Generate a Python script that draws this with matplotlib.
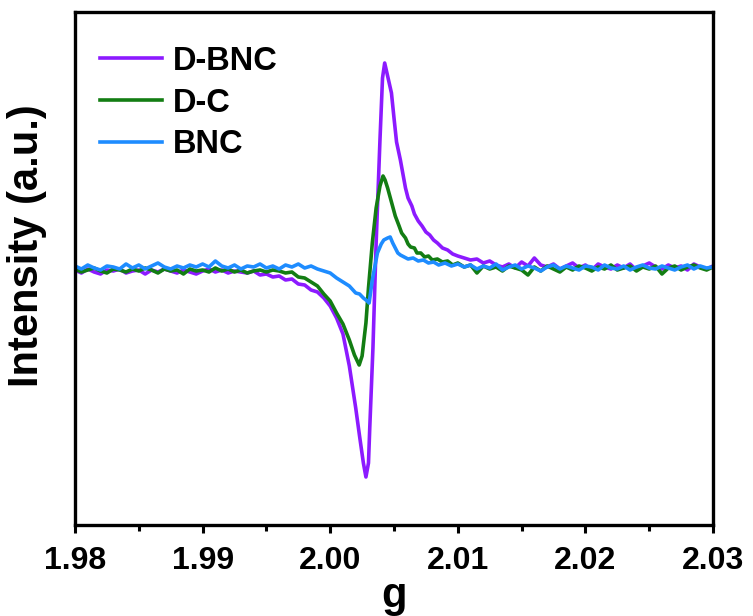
import matplotlib
matplotlib.use("Agg")
import matplotlib.pyplot as plt
from matplotlib.ticker import FormatStrFormatter, MultipleLocator

plt.rcParams["font.family"] = ["Liberation Sans", "DejaVu Sans"]
plt.rcParams["font.weight"] = "bold"

# EPR spectra, intensity in arbitrary units (baseline = 0)
g_dbnc = [
    1.9800, 1.9805, 1.9810, 1.9815, 1.9820, 1.9825, 1.9830, 1.9835, 1.9840, 1.9845,
    1.9850, 1.9855, 1.9860, 1.9865, 1.9870, 1.9875, 1.9880, 1.9885, 1.9890, 1.9895,
    1.9900, 1.9905, 1.9910, 1.9915, 1.9920, 1.9925, 1.9930, 1.9935, 1.9940, 1.9945,
    1.9950, 1.9955, 1.9960, 1.9965, 1.9970, 1.9975, 1.9980, 1.9985, 1.9990, 1.9995,
    2.0000, 2.0005, 2.0010, 2.0015, 2.0020, 2.0023, 2.0026, 2.0028, 2.0030, 2.0031,
    2.00335, 2.0036, 2.0039, 2.0041, 2.00427, 2.0045, 2.0048, 2.0050, 2.0052, 2.0055,
    2.0057, 2.0059, 2.0061, 2.0064, 2.0066, 2.0069, 2.0072, 2.0075, 2.0078, 2.0081,
    2.0084, 2.0088, 2.0092, 2.0096, 2.0100, 2.0105, 2.0110, 2.0115, 2.0120, 2.0125,
    2.0130, 2.0135, 2.0140, 2.0145, 2.0150, 2.0155, 2.0160, 2.0165, 2.0170, 2.0175,
    2.0180, 2.0185, 2.0190, 2.0195, 2.0200, 2.0205, 2.0210, 2.0215, 2.0220, 2.0225,
    2.0230, 2.0235, 2.0240, 2.0245, 2.0250, 2.0255, 2.0260, 2.0265, 2.0270, 2.0275,
    2.0280, 2.0285, 2.0290, 2.0295, 2.0300,
]
i_dbnc = [
    -2, -5, -1, -4, -6, -2, -3, -1, -5, -3,
    -2, -6, -2, -4, -1, -3, -5, -2, -4, -6,
    -3, -1, -4, -2, -5, -3, -4, -5, -3, -7,
    -6, -9, -8, -12, -11, -16, -17, -22, -24, -30,
    -38, -50, -66, -98, -140, -168, -195, -209, -195, -160,
    -80, 25, 128, 190, 205, 192, 175, 150, 126, 108,
    94, 80, 70, 62, 54, 47, 42, 36, 33, 28,
    25, 20, 18, 14, 12, 10, 8, 9, 5, 7,
    3, 1, 4, 0, 6, 2, 10, 3, 1, 4,
    -1, 2, 5, 0, 3, -2, 4, 1, -1, 3,
    0, 4, -2, 2, 5, 1, -1, 3, 0, 2,
    -2, 4, 1, -1, 2,
]

g_dc = [
    1.9800, 1.9805, 1.9810, 1.9815, 1.9820, 1.9825, 1.9830, 1.9835, 1.9840, 1.9845,
    1.9850, 1.9855, 1.9860, 1.9865, 1.9870, 1.9875, 1.9880, 1.9885, 1.9890, 1.9895,
    1.9900, 1.9905, 1.9910, 1.9915, 1.9920, 1.9925, 1.9930, 1.9935, 1.9940, 1.9945,
    1.9950, 1.9955, 1.9960, 1.9965, 1.9970, 1.9975, 1.9980, 1.9985, 1.9990, 1.9995,
    2.0000, 2.0005, 2.0010, 2.0015, 2.0019, 2.00227, 2.0025, 2.0028, 2.0030, 2.0033,
    2.0036, 2.0039, 2.00414, 2.0043, 2.0045, 2.0048, 2.0051, 2.0054, 2.0056, 2.0059,
    2.0061, 2.0063, 2.0066, 2.0068, 2.0071, 2.0074, 2.0077, 2.0080, 2.0084, 2.0088,
    2.0092, 2.0096, 2.0100, 2.0105, 2.0110, 2.0115, 2.0120, 2.0125, 2.0130, 2.0135,
    2.0140, 2.0145, 2.0150, 2.0155, 2.0160, 2.0165, 2.0170, 2.0175, 2.0180, 2.0185,
    2.0190, 2.0195, 2.0200, 2.0205, 2.0210, 2.0215, 2.0220, 2.0225, 2.0230, 2.0235,
    2.0240, 2.0245, 2.0250, 2.0255, 2.0260, 2.0265, 2.0270, 2.0275, 2.0280, 2.0285,
    2.0290, 2.0295, 2.0300,
]
i_dc = [
    -1, -4, -2, 0, -3, -5, -1, -2, -4, -1,
    -3, 0, -2, -5, -1, -3, -2, -6, -1, -3,
    -2, -4, 0, -3, -1, -4, -2, -5, -3, -2,
    -4, -2, -3, -5, -4, -9, -10, -14, -18, -26,
    -33, -45, -56, -72, -87, -97, -88, -55, -20, 25,
    60, 82, 92, 88, 80, 66, 52, 42, 35, 30,
    24, 21, 20, 15, 15, 11, 12, 8, 9, 6,
    7, 3, 5, 1, 3, -5, 2, -1, 1, -3,
    2, 0, -2, -7, 1, -3, 2, -1, -4, 1,
    -2, 2, 0, -3, 1, -1, 3, -2, 0, 2,
    -3, 1, -1, 2, -6, 0, 2, -2, 1, 3,
    0, -2, 1,
]

g_bnc = [
    1.9800, 1.9805, 1.9810, 1.9815, 1.9820, 1.9825, 1.9830, 1.9835, 1.9840, 1.9845,
    1.9850, 1.9855, 1.9860, 1.9865, 1.9870, 1.9875, 1.9880, 1.9885, 1.9890, 1.9895,
    1.9900, 1.9905, 1.9910, 1.9915, 1.9920, 1.9925, 1.9930, 1.9935, 1.9940, 1.9945,
    1.9950, 1.9955, 1.9960, 1.9965, 1.9970, 1.9975, 1.9980, 1.9985, 1.9990, 1.9995,
    2.0000, 2.0005, 2.0010, 2.0015, 2.0020, 2.0023, 2.0026, 2.0029, 2.00305, 2.0033,
    2.0037, 2.0040, 2.0042, 2.0045, 2.0047, 2.0049, 2.0051, 2.0053, 2.0055, 2.0058,
    2.0061, 2.0065, 2.0069, 2.0073, 2.0077, 2.0081, 2.0085, 2.0090, 2.0095, 2.0100,
    2.0105, 2.0110, 2.0115, 2.0120, 2.0125, 2.0130, 2.0135, 2.0140, 2.0145, 2.0150,
    2.0155, 2.0160, 2.0165, 2.0170, 2.0175, 2.0180, 2.0185, 2.0190, 2.0195, 2.0200,
    2.0205, 2.0210, 2.0215, 2.0220, 2.0225, 2.0230, 2.0235, 2.0240, 2.0245, 2.0250,
    2.0255, 2.0260, 2.0265, 2.0270, 2.0275, 2.0280, 2.0285, 2.0290, 2.0295, 2.0300,
]
i_bnc = [
    2, -1, 3, 0, -2, 2, 1, -1, 4, 0,
    3, -1, 2, 5, 1, -1, 2, 0, 3, 1,
    4, 1, 7, 2, 0, 3, -1, 2, 1, 4,
    0, 2, -1, 3, 1, 4, 0, 2, -1, -3,
    -5, -10, -14, -18, -25, -26, -30, -33, -35, -12,
    15, 24, 28, 30, 31, 25, 20, 15, 13, 11,
    9, 10, 7, 8, 5, 6, 3, 5, 2, 4,
    1, 3, -1, 2, 0, 4, -2, 1, 3, -1,
    2, 0, -3, 1, 3, -1, 2, 0, -2, 2,
    1, -2, 3, 0, -1, 2, -2, 1, 3, 0,
    -1, 2, 0, -2, 1, 3, -1, 2, 0, 1,
]

labels = ["D-BNC", "D-C", "BNC"]
colors = ["#8c1aff", "#137d13", "#1e8cff"]

fig = plt.figure(figsize=(7.53, 6.16), dpi=100)
ax = fig.add_axes([75 / 753, 91 / 616, 638 / 753, 513 / 616])

for g, inten, label, color in zip(
    [g_dbnc, g_dc, g_bnc], [i_dbnc, i_dc, i_bnc], labels, colors
):
    ax.plot(g, inten, color=color, lw=2.6, label=label)

ax.set_xlim(1.98, 2.03)
ax.set_ylim(-257, 256)
ax.xaxis.set_major_locator(MultipleLocator(0.01))
ax.xaxis.set_minor_locator(MultipleLocator(0.005))
ax.xaxis.set_major_formatter(FormatStrFormatter("%.2f"))
ax.tick_params(axis="x", which="major", direction="out", length=6, width=2.2,
               labelsize=23, pad=9)
ax.tick_params(axis="x", which="minor", direction="out", length=4, width=2.2)
ax.tick_params(axis="y", left=False, labelleft=False)
for spine in ax.spines.values():
    spine.set_linewidth(2.4)

ax.set_xlabel("g", fontsize=30, fontweight="bold", labelpad=0)
ax.set_ylabel("Intensity (a.u.)", fontsize=30, fontweight="bold")
ax.yaxis.set_label_coords(-0.044, 0.544)

ax.legend(loc="upper left", bbox_to_anchor=(0.039, 0.934), frameon=False,
          prop={"weight": "bold", "size": 23.5}, handlelength=1.9,
          handletextpad=0.35, labelspacing=0.33, borderpad=0, borderaxespad=0)

fig.savefig("out.png", dpi=100)
